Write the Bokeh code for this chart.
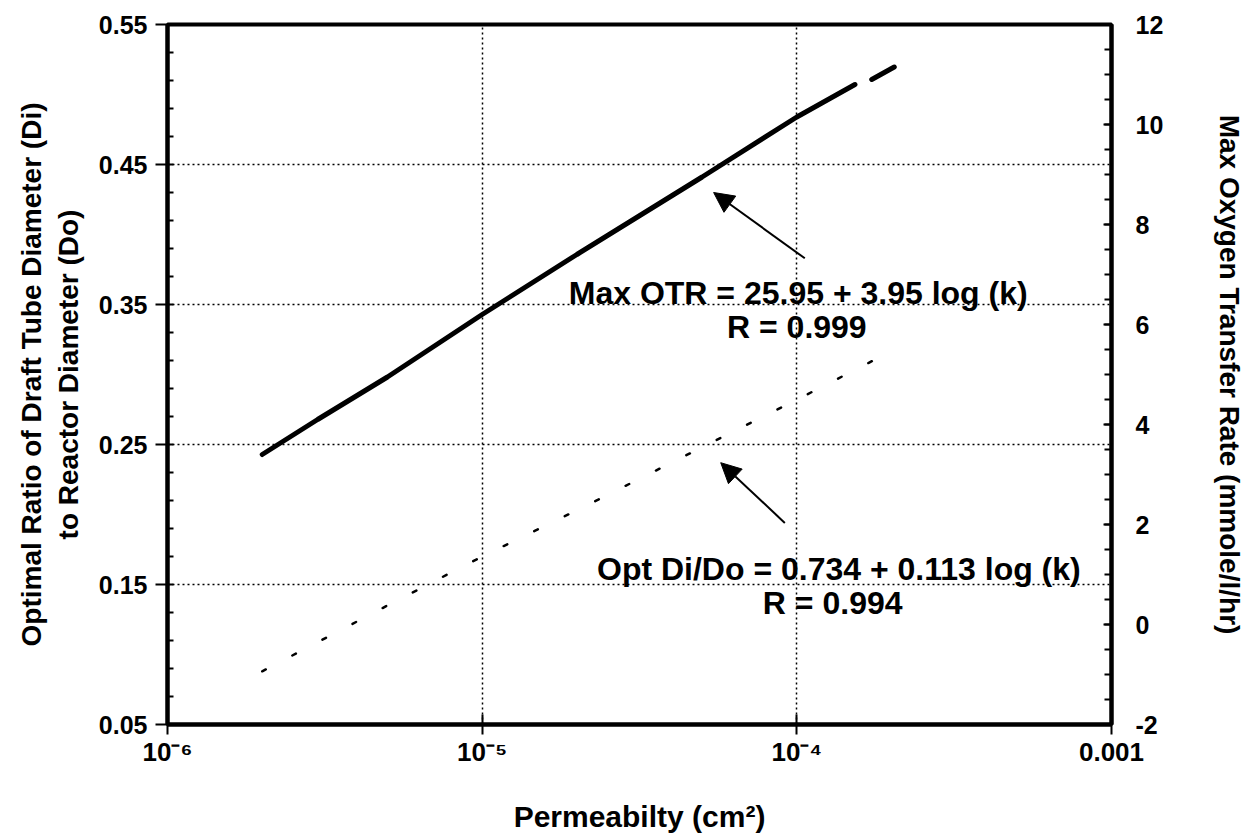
from bokeh.plotting import figure
from bokeh.models import (Range1d, LinearAxis, FixedTicker, CustomJSTickFormatter,
                          Arrow, NormalHead, Label)
from bokeh.embed import file_html
from bokeh.resources import INLINE

# ---------------- data ----------------
# Max OTR curve (right axis, mmole/l/hr); NaN marks the small break in the line
k_otr = [2.0e-6, 3.0e-6, 5.0e-6, 1.0e-5, 2.0e-5, 5.0e-5, 1.0e-4, 1.53e-4, float("nan"), 1.73e-4, 2.04e-4]
otr = [3.40, 4.10, 4.95, 6.20, 7.40, 8.95, 10.15, 10.80, float("nan"), 10.90, 11.15]

# Optimal Di/Do curve (left axis), dotted
k_di = [2.0e-6, 5.0e-6, 1.0e-5, 2.0e-5, 5.0e-5, 1.0e-4, 1.75e-4]
di_do = [0.088, 0.135, 0.170, 0.203, 0.248, 0.282, 0.310]

x_tick_values = [1e-6, 1e-5, 1e-4, 1e-3]
x_tick_labels = ["10\u207b\u2076", "10\u207b\u2075", "10\u207b\u2074", "0.001"]
left_ticks = [0.05, 0.15, 0.25, 0.35, 0.45, 0.55]
left_tick_labels = ["0.05", "0.15", "0.25", "0.35", "0.45", "0.55"]
right_ticks = [-2, 0, 2, 4, 6, 8, 10, 12]
right_tick_labels = ["-2", "0", "2", "4", "6", "8", "10", "12"]

FONT = "Liberation Sans"

p = figure(width=1258, height=839, x_axis_type="log",
           x_range=Range1d(1e-6, 1e-3), y_range=Range1d(0.05, 0.55),
           output_backend="svg", toolbar_location=None,
           min_border_left=167, min_border_right=147,
           min_border_top=24, min_border_bottom=115)
p.background_fill_color = "white"
p.border_fill_color = "white"
p.outline_line_color = "black"
p.outline_line_width = 4

p.extra_y_ranges = {"otr": Range1d(-2, 12)}

# ---- grids ----
p.xgrid.ticker = FixedTicker(ticks=x_tick_values[1:-1])
p.ygrid.ticker = FixedTicker(ticks=left_ticks[1:-1])
for g in (p.xgrid, p.ygrid):
    g.grid_line_color = "black"
    g.grid_line_dash = "2 3"
    g.grid_line_width = 1.5

# ---- bottom axis ----
xa = p.xaxis[0]
xa.ticker = FixedTicker(ticks=x_tick_values, minor_ticks=[])
xa.formatter = CustomJSTickFormatter(args=dict(vals=x_tick_values, labs=x_tick_labels), code="""
let best = 0, bd = 1e9;
for (let i = 0; i < vals.length; i++) {
  const d = Math.abs(Math.log10(tick) - Math.log10(vals[i]));
  if (d < bd) { bd = d; best = i; }
}
return labs[best];
""")
xa.major_tick_in = 10
xa.major_tick_out = 10
xa.minor_tick_in = 0
xa.minor_tick_out = 0
xa.axis_line_width = 4
xa.major_tick_line_width = 2
xa.major_label_standoff = 2
xa.major_label_text_font = FONT
xa.major_label_text_font_style = "bold"
xa.major_label_text_font_size = "26px"
xa.major_label_text_color = "black"
xa.axis_label = "Permeabilty (cm\u00b2)"
xa.axis_label_text_font = FONT
xa.axis_label_text_font_style = "bold"
xa.axis_label_text_font_size = "30px"
xa.axis_label_text_color = "black"
xa.axis_label_standoff = 30

# ---- left axis ----
ya = p.yaxis[0]
ya.ticker = FixedTicker(ticks=left_ticks,
                        minor_ticks=[round(0.05 + 0.02 * i, 2) for i in range(26)])
ya.major_label_overrides = {t: s for t, s in zip(left_ticks, left_tick_labels)}
ya.major_tick_in = 0
ya.major_tick_out = 12
ya.minor_tick_in = 6
ya.minor_tick_out = 0
ya.axis_line_width = 4
ya.major_tick_line_width = 2
ya.minor_tick_line_width = 2
ya.major_label_standoff = 8
ya.major_label_text_font = FONT
ya.major_label_text_font_style = "bold"
ya.major_label_text_font_size = "25px"
ya.major_label_text_color = "black"
ya.axis_label = "Optimal Ratio of Draft Tube Diameter (Di)\nto Reactor Diameter (Do)"
ya.axis_label_text_font = FONT
ya.axis_label_text_font_style = "bold"
ya.axis_label_text_font_size = "28px"
ya.axis_label_text_color = "black"
ya.axis_label_standoff = 12

# ---- right axis ----
ra = LinearAxis(y_range_name="otr")
ra.ticker = FixedTicker(ticks=right_ticks, minor_ticks=[-2 + 0.5 * i for i in range(29)])
ra.major_label_overrides = {t: s for t, s in zip(right_ticks, right_tick_labels)}
ra.major_tick_in = 8
ra.major_tick_out = 0
ra.minor_tick_in = 7
ra.minor_tick_out = 0
ra.axis_line_width = 4
ra.major_tick_line_width = 2
ra.minor_tick_line_width = 2
ra.major_label_standoff = 24
ra.major_label_text_font = FONT
ra.major_label_text_font_style = "bold"
ra.major_label_text_font_size = "25px"
ra.major_label_text_color = "black"
ra.axis_label = "Max Oxygen Transfer Rate (mmole/l/hr)"
ra.axis_label_text_font = FONT
ra.axis_label_text_font_style = "bold"
ra.axis_label_text_font_size = "28px"
ra.axis_label_text_color = "black"
ra.axis_label_standoff = 48
p.add_layout(ra, "right")

# ---- curves ----
p.line(k_otr, otr, y_range_name="otr", line_color="black", line_width=5, line_cap="round")
p.line(k_di, di_do, line_color="black", line_width=2.5, line_dash="4 30", line_cap="round")

# ---- annotations ----
p.add_layout(Arrow(end=NormalHead(size=20, fill_color="black", line_color="black"),
                   x_start=1.06e-4, y_start=0.383, x_end=5.44e-5, y_end=0.430,
                   line_width=2, line_color="black"))
p.add_layout(Arrow(end=NormalHead(size=20, fill_color="black", line_color="black"),
                   x_start=9.16e-5, y_start=0.194, x_end=5.73e-5, y_end=0.237,
                   line_width=2, line_color="black"))

def lab(x, y, t):
    p.add_layout(Label(x=x, y=y, text=t, text_align="center", text_baseline="middle",
                       text_font=FONT, text_font_style="bold", text_font_size="32px",
                       text_color="black"))

lab(1.01e-4, 0.358, "Max OTR = 25.95 + 3.95 log (k)")
lab(1.00e-4, 0.334, "R = 0.999")
lab(1.36e-4, 0.161, "Opt Di/Do = 0.734 + 0.113 log (k)")
lab(1.30e-4, 0.137, "R = 0.994")

open("out.html", "w").write(file_html(p, INLINE))
